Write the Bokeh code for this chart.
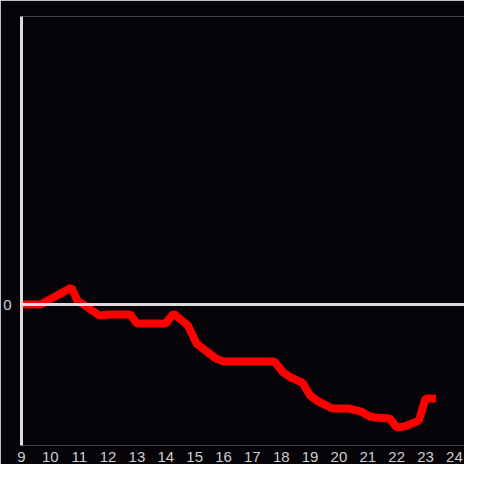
from bokeh.plotting import figure
from bokeh.models import Span, FixedTicker, Range1d
from bokeh.embed import file_html
from bokeh.resources import INLINE

hours = [9.0, 9.667, 10.733, 10.933, 11.7, 12.067, 12.767, 13.0, 14.0, 14.267, 14.767,
         15.067, 15.733, 16.0, 17.767, 18.067, 18.333, 18.733, 19.0, 19.233, 19.767,
         20.333, 20.767, 21.067, 21.267, 21.767, 22.0, 22.267, 22.767, 23.0, 23.367]
values = [0.0, 0.0, 0.118, 0.028, -0.076, -0.069, -0.069, -0.132, -0.132, -0.063, -0.146,
          -0.271, -0.375, -0.396, -0.396, -0.472, -0.507, -0.542, -0.632, -0.667, -0.722,
          -0.722, -0.743, -0.778, -0.785, -0.792, -0.854, -0.847, -0.806, -0.653, -0.653]
x_ticks = list(range(9, 25))
y_ticks = [0]

BG = "#050307"
AX = "#dcdcdc"

p = figure(width=464, height=464, output_backend="svg", toolbar_location=None,
           x_range=Range1d(9, 24.35), y_range=Range1d(-0.979, 2),
           background_fill_color=BG, border_fill_color=BG,
           min_border_left=0, min_border_right=0, min_border_top=16, min_border_bottom=0)
p.outline_line_color = None
p.grid.visible = False

p.xaxis.ticker = FixedTicker(ticks=x_ticks)
p.xaxis.axis_line_color = None
p.xaxis.major_tick_line_color = None
p.xaxis.minor_tick_line_color = None
p.xaxis.major_label_text_color = "#cfcfcf"
p.xaxis.major_label_text_font = "Liberation Sans"
p.xaxis.major_label_text_font_size = "15px"
p.xaxis.major_label_standoff = 0

p.yaxis.ticker = FixedTicker(ticks=y_ticks)
p.yaxis.axis_line_color = AX
p.yaxis.axis_line_width = 3
p.yaxis.major_tick_line_color = None
p.yaxis.minor_tick_line_color = None
p.yaxis.major_label_text_color = "#cfcfcf"
p.yaxis.major_label_text_font = "Liberation Sans"
p.yaxis.major_label_text_font_size = "15px"
p.yaxis.major_label_standoff = 4

p.add_layout(Span(location=0, dimension="width", line_color=AX, line_width=3))

p.line(hours, values, line_color="#ff0000", line_width=8)

open("out.html", "w").write(file_html(p, INLINE))
